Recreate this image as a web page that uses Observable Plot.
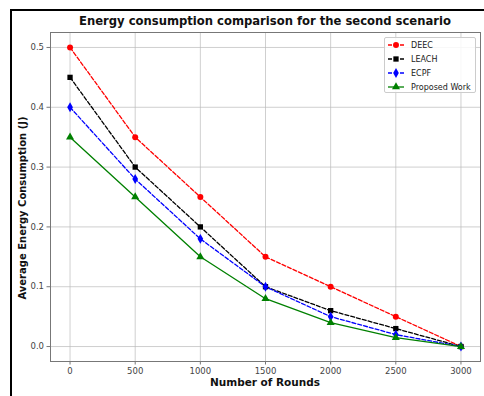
<!DOCTYPE html>
<html>
<head>
<meta charset="utf-8">
<script src="https://cdn.jsdelivr.net/npm/d3@7"></script>
<script src="https://cdn.jsdelivr.net/npm/@observablehq/plot@0.6"></script>
<style>
  html, body { margin: 0; padding: 0; background: #fff; overflow: hidden; }
  body { width: 484px; height: 396px; position: relative; font-family: "DejaVu Sans", sans-serif; }
  #border { position: absolute; left: 10px; top: 9px; width: 490px; height: 410px; border: 2.5px solid #000; box-sizing: border-box; pointer-events: none; }
  #chart { position: absolute; left: 0; top: 0; }
  #title { position: absolute; left: 50px; width: 430px; top: 14px; text-align: center; font-weight: bold; font-size: 11.6px; color: #111; }
  #xlabel { position: absolute; left: 50px; width: 430px; top: 376px; text-align: center; font-weight: bold; font-size: 10.5px; color: #111; }
  #ylabel { position: absolute; left: 22px; top: 208px; transform: translate(-50%, -50%) rotate(-90deg); white-space: nowrap; font-weight: bold; font-size: 10px; color: #111; }
  #legend { position: absolute; left: 384px; top: 37px; width: 92px; height: 56px; border: 1px solid #ccc; border-radius: 2px; background: rgba(255,255,255,0.85); box-sizing: border-box; }
  .item { position: absolute; left: 2px; height: 14px; display: flex; align-items: center; font-size: 8px; color: #222; white-space: nowrap; }
  .item svg { margin-right: 6px; }
</style>
</head>
<body>
<div id="chart"></div>
<div id="title">Energy consumption comparison for the second scenario</div>
<div id="xlabel">Number of Rounds</div>
<div id="ylabel">Average Energy Consumption (J)</div>
<div id="legend"></div>
<div id="border"></div>
<script>
const rounds = [0, 500, 1000, 1500, 2000, 2500, 3000];
const deec = [0.5, 0.35, 0.25, 0.15, 0.1, 0.05, 0.0];
const leach = [0.45, 0.3, 0.2, 0.1, 0.06, 0.03, 0.0];
const ecpf = [0.4, 0.28, 0.18, 0.1, 0.05, 0.02, 0.0];
const proposed = [0.35, 0.25, 0.15, 0.08, 0.04, 0.015, 0.0];
const seriesNames = ["DEEC", "LEACH", "ECPF", "Proposed Work"];
const yTicks = [0.0, 0.1, 0.2, 0.3, 0.4, 0.5];

const series = [
  {name: seriesNames[0], values: deec, color: "#ff0000", symbol: "circle", dash: "4,2", r: 3},
  {name: seriesNames[1], values: leach, color: "#000000", symbol: "square", dash: "4,2", r: 3},
  {name: seriesNames[2], values: ecpf, color: "#0000ff", symbol: "diamond", dash: "4,2", r: 3},
  {name: seriesNames[3], values: proposed, color: "#008000", symbol: "triangle", dash: null, r: 3}
];

const marks = [
  Plot.gridX(rounds, {stroke: "#bbb", strokeOpacity: 0.7, strokeWidth: 1}),
  Plot.gridY(yTicks, {stroke: "#bbb", strokeOpacity: 0.7, strokeWidth: 1}),
  Plot.frame({stroke: "#777", strokeWidth: 1}),
  Plot.axisX(rounds, {tickSize: 3.5, tickPadding: 3, fontSize: 8.5, fill: "#444", stroke: "#777", label: null, tickFormat: d => String(d)}),
  Plot.axisY(yTicks, {tickSize: 3.5, tickPadding: 3, fontSize: 8.5, fill: "#444", stroke: "#777", label: null, tickFormat: d => d.toFixed(1)})
];
for (const s of series) {
  const rows = rounds.map((x, i) => ({x, y: s.values[i]}));
  marks.push(Plot.line(rows, {x: "x", y: "y", stroke: s.color, strokeWidth: 1.3, strokeDasharray: s.dash || undefined}));
  marks.push(Plot.dot(rows, {x: "x", y: "y", fill: s.color, stroke: "none", symbol: s.symbol, r: s.r}));
}

const chart = Plot.plot({
  width: 484,
  height: 396,
  marginLeft: 50,
  marginRight: 4,
  marginTop: 32,
  marginBottom: 35,
  style: {fontFamily: "DejaVu Sans, sans-serif", background: "transparent"},
  x: {domain: [-150, 3150], axis: null},
  y: {domain: [-0.025, 0.525], axis: null},
  marks
});
document.getElementById("chart").appendChild(chart);

const legend = document.getElementById("legend");
const symPaths = {
  circle: d3.symbol(d3.symbolCircle, 28)(),
  square: d3.symbol(d3.symbolSquare, 28)(),
  diamond: d3.symbol(d3.symbolDiamond, 28)(),
  triangle: d3.symbol(d3.symbolTriangle, 28)()
};
series.forEach((s, i) => {
  const div = document.createElement("div");
  div.className = "item";
  div.style.top = (i * 14) + "px";
  div.innerHTML = `<svg width="18" height="10"><line x1="1" x2="17" y1="5" y2="5" stroke="${s.color}" stroke-width="1.3" ${s.dash ? `stroke-dasharray="${s.dash}"` : ""}/><path transform="translate(9,5)" d="${symPaths[s.symbol]}" fill="${s.color}"/></svg><span>${s.name}</span>`;
  legend.appendChild(div);
});
</script>
</body>
</html>
